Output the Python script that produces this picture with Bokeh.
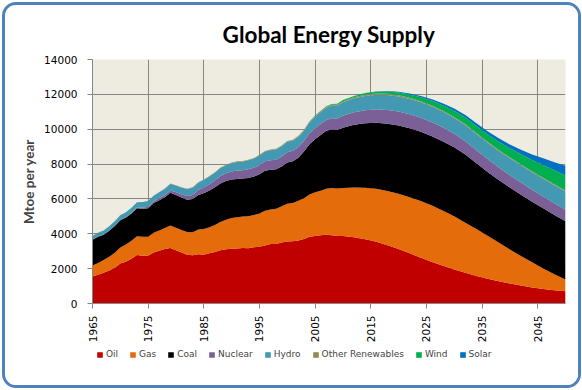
from bokeh.plotting import figure
from bokeh.models import ColumnDataSource, FixedTicker, Legend, LegendItem, Range1d
from bokeh.layouts import column
from bokeh.embed import file_html
from bokeh.resources import INLINE
import math

years = list(range(1965, 2011)) + list(range(2012, 2051, 2))

oil = [1550, 1650, 1760, 1890, 2050, 2300, 2400, 2570, 2780, 2740,
       2740, 2920, 3020, 3120, 3190, 3050, 2920, 2800, 2770, 2820,
       2800, 2890, 2950, 3050, 3110, 3140, 3150, 3180, 3170, 3230,
       3260, 3330, 3410, 3420, 3500, 3560, 3570, 3610, 3700, 3830,
       3880, 3910, 3940, 3920, 3880, 3870,
       3800, 3680, 3540, 3340, 3120, 2880, 2630, 2380, 2160, 1950,
       1760, 1580, 1420, 1280, 1150, 1030, 920, 830, 760, 706]

gas = [630, 680, 730, 790, 860, 920, 980, 1030, 1080, 1090,
       1090, 1140, 1170, 1210, 1280, 1290, 1300, 1300, 1320, 1420,
       1470, 1490, 1560, 1630, 1700, 1760, 1800, 1810, 1840, 1850,
       1900, 1990, 1990, 2020, 2080, 2170, 2200, 2280, 2340, 2430,
       2500, 2560, 2640, 2700, 2720, 2750,
       2850, 2960, 3040, 3120, 3180, 3220, 3250, 3240, 3160, 3050,
       2880, 2690, 2470, 2220, 1950, 1690, 1440, 1180, 920, 671]

coal = [1480, 1500, 1460, 1500, 1540, 1560, 1550, 1570, 1610, 1610,
        1640, 1700, 1740, 1760, 1880, 1880, 1860, 1860, 1900, 1980,
        2050, 2100, 2160, 2200, 2220, 2220, 2200, 2180, 2190, 2200,
        2250, 2290, 2280, 2260, 2280, 2360, 2390, 2470, 2680, 2880,
        3050, 3200, 3330, 3370, 3360, 3460,
        3600, 3700, 3790, 3860, 3920, 3960, 3970, 3980, 3980, 3960,
        3910, 3780, 3660, 3580, 3550, 3520, 3480, 3450, 3400, 3340]

nuclear = [6, 8, 9, 12, 14, 18, 25, 34, 45, 57,
           82, 95, 117, 135, 140, 161, 190, 210, 240, 290,
           340, 365, 395, 430, 440, 453, 475, 480, 497, 507,
           526, 545, 542, 552, 571, 584, 601, 611, 599, 625,
           627, 635, 622, 640, 660, 690,
           720, 750, 770, 780, 790, 800, 805, 805, 795, 780,
           765, 745, 735, 720, 710, 700, 685, 675, 665, 657]

hydro = [210, 225, 230, 240, 255, 265, 275, 285, 290, 320,
         325, 330, 340, 360, 375, 385, 390, 400, 415, 425,
         435, 440, 445, 460, 460, 490, 500, 500, 525, 530,
         560, 565, 575, 580, 585, 600, 590, 600, 600, 630,
         660, 685, 700, 720, 730, 780,
         800, 820, 840, 860, 870, 880, 888, 895, 903, 910,
         918, 926, 935, 952, 970, 986, 1002, 1018, 1034, 1050]

other = [5, 5, 6, 6, 7, 8, 8, 9, 10, 11,
         12, 12, 13, 14, 15, 16, 17, 18, 19, 21,
         23, 24, 25, 27, 28, 30, 31, 32, 33, 34,
         35, 36, 37, 38, 39, 40, 41, 43, 44, 46,
         48, 50, 52, 55, 57, 60,
         62, 66, 70, 68, 65, 62, 60, 60, 58, 56,
         55, 55, 55, 55, 55, 56, 58, 59, 60, 60]

wind = [0, 0, 0, 0, 0, 0, 0, 0, 0, 0,
        0, 0, 0, 0, 0, 0, 0, 0, 0, 0,
        0, 0, 0, 0, 0, 0, 0, 0, 0, 0,
        1, 1, 2, 3, 4, 5, 7, 9, 12, 15,
        20, 25, 32, 40, 50, 60,
        70, 85, 100, 130, 160, 195, 230, 270, 310, 350,
        380, 410, 440, 480, 520, 580, 650, 740, 810, 860]

solar = [0, 0, 0, 0, 0, 0, 0, 0, 0, 0,
         0, 0, 0, 0, 0, 0, 0, 0, 0, 0,
         0, 0, 0, 0, 0, 0, 0, 0, 0, 0,
         0, 0, 0, 0, 0, 0, 0, 0, 0, 0,
         1, 1, 1, 2, 3, 5,
         10, 14, 20, 30, 40, 55, 72, 88, 110, 130,
         145, 155, 175, 200, 220, 260, 310, 380, 460, 560]

names = ["Oil", "Gas", "Coal", "Nuclear", "Hydro", "Other Renewables", "Wind", "Solar"]
colors = ["#C00000", "#E46C0A", "#000000", "#7B5F97", "#4399B2", "#948A54", "#00B050", "#0070C0"]
keys = ["oil", "gas", "coal", "nuclear", "hydro", "other", "wind", "solar"]
x_ticks = list(range(1965, 2050, 10))
y_ticks = list(range(0, 14001, 2000))

data = dict(year=years, oil=oil, gas=gas, coal=coal, nuclear=nuclear,
            hydro=hydro, other=other, wind=wind, solar=solar)
source = ColumnDataSource(data)

p = figure(width=573, height=341, output_backend="svg", toolbar_location=None,
           x_range=Range1d(1965, 2050), y_range=Range1d(0, 14000),
           min_border_left=87, min_border_right=13, min_border_top=54, min_border_bottom=43)

p.varea_stack(keys, x="year", color=colors, source=source)

p.background_fill_color = "#EEECE1"
p.border_fill_color = "white"
p.outline_line_color = None

p.title.text = "Global Energy Supply"
p.title.align = "center"
p.title.text_font = "Lato"
p.title.text_font_size = "22.5px"
p.title.text_font_style = "bold"
p.title.text_color = "black"
p.title.standoff = 24

for ax in (p.xaxis[0], p.yaxis[0]):
    ax.axis_line_color = "#868686"
    ax.major_tick_line_color = "#868686"
    ax.major_tick_out = 5
    ax.major_tick_in = 0
    ax.minor_tick_line_color = None
    ax.major_label_text_font = "DejaVu Sans"
    ax.major_label_text_font_size = "10.5px"
    ax.major_label_text_color = "black"

p.xaxis.ticker = FixedTicker(ticks=x_ticks)
p.xaxis.major_label_orientation = math.pi / 2
p.xaxis.major_label_standoff = 7
p.yaxis.ticker = FixedTicker(ticks=y_ticks)
p.yaxis.major_label_standoff = 10
p.yaxis.axis_label = "Mtoe per year"
p.yaxis.axis_label_text_font = "Lato"
p.yaxis.axis_label_text_font_size = "13.5px"
p.yaxis.axis_label_text_font_style = "bold"
p.yaxis.axis_label_standoff = 4

p.xgrid.ticker = FixedTicker(ticks=x_ticks)
p.xgrid.grid_line_color = "#868686"
p.ygrid.grid_line_color = "#868686"

# legend strip: same stacked series, but its x range lies outside the data,
# so only the legend swatches are visible
lf = figure(width=573, height=39, output_backend="svg", toolbar_location=None,
            x_range=Range1d(0, 1), y_range=Range1d(0, 1),
            x_axis_type=None, y_axis_type=None,
            min_border_left=0, min_border_right=0, min_border_top=0, min_border_bottom=0)
lf.outline_line_color = None
lf.background_fill_color = "white"
lf.border_fill_color = "white"
lrs = lf.varea_stack(keys, x="year", color=colors, source=source)

legend = Legend(items=[LegendItem(label=n, renderers=[r]) for n, r in zip(names, lrs)],
                orientation="horizontal", location=(4, 26),
                glyph_width=7, glyph_height=7, label_standoff=3, spacing=11,
                padding=3, margin=0, border_line_color=None, background_fill_alpha=0,
                label_width=0,
                label_text_font="DejaVu Sans", label_text_font_size="9px")
lf.add_layout(legend, "center")

lay = column(p, lf, spacing=0)
lay.styles = {"border": "3px solid #4F81BD", "border-radius": "14px", "overflow": "hidden",
              "margin-left": "2px", "margin-top": "2px", "background": "white"}

open("out.html", "w").write(file_html(lay, INLINE))
